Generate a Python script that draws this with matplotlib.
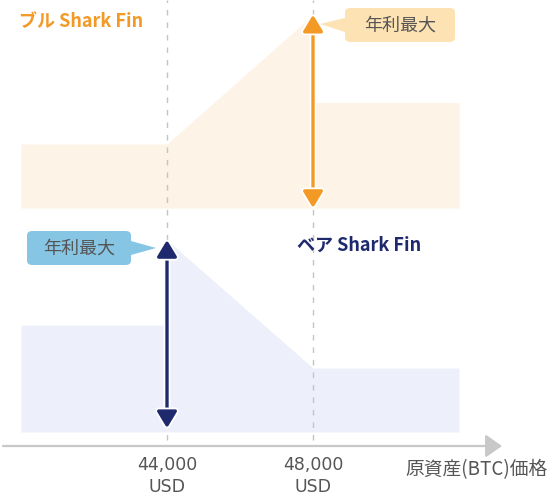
import numpy as np
import matplotlib.pyplot as plt
import matplotlib.patheffects as pe
from matplotlib.patches import FancyBboxPatch, Polygon

plt.rcParams['font.family'] = ['DejaVu Sans', 'Noto Sans CJK JP']

# prices (USD) and annual yield levels (relative units)
strikes = [44000, 48000]
tick_labels = ['44,000\nUSD', '48,000\nUSD']
bull_x = [40000, 44000, 48000, 48000, 52000]
bull_y = [1.0, 1.0, 3.02, 1.65, 1.65]
bear_x = [40000, 44000, 44000, 48000, 52000]
bear_y = [1.67, 1.67, 3.0, 1.0, 1.0]
bull_base = 3.5
bear_base = 0.0

ORANGE = '#f39a26'
NAVY = '#1f2a6e'
BULL_FILL = '#fdf3e7'
BEAR_FILL = '#edf0fb'
GRAY = '#555555'


# pixel helpers only for placing labels / callouts
def px_x(px):
    return 44000 + (px - 167) / 0.0365


def px_y(py):
    return (432 - py) / 64.0


fig = plt.figure(figsize=(5.5, 5.0), dpi=100)
ax = fig.add_axes([0, 0, 1, 1])
ax.set_xlim(px_x(0), px_x(550))
ax.set_ylim(px_y(500), px_y(0))
ax.axis('off')

# shaded payoff areas
ax.fill_between(bull_x, bull_base, np.array(bull_y) + bull_base,
                color=BULL_FILL, lw=0, zorder=1)
ax.fill_between(bear_x, bear_base, np.array(bear_y) + bear_base,
                color=BEAR_FILL, lw=0, zorder=1)

# dashed strike lines
for s in strikes:
    ax.plot([s, s], [px_y(440), px_y(0)], color='#c4c4c4', lw=1,
            dashes=(4, 5), zorder=2)

# price axis arrow
ax.annotate('', xy=(px_x(502), px_y(446)), xytext=(px_x(3), px_y(446)),
            arrowprops=dict(arrowstyle='-|>,head_length=0.5,head_width=0.35',
                            mutation_scale=20, color='#c8c8c8', lw=1.6,
                            shrinkA=0, shrinkB=0), zorder=2)

# max yield double arrows
outline = [pe.Stroke(linewidth=5, foreground='white'), pe.Normal()]
a1 = ax.annotate('', xy=(strikes[1], bull_base + max(bull_y)),
                 xytext=(strikes[1], bull_base),
                 arrowprops=dict(arrowstyle='<|-|>,head_length=0.5,head_width=0.3',
                                 mutation_scale=20, color=ORANGE, lw=2.4,
                                 shrinkA=0, shrinkB=0), zorder=4)
a1.arrow_patch.set_path_effects(outline)
a2 = ax.annotate('', xy=(strikes[0], bear_base + max(bear_y)),
                 xytext=(strikes[0], bear_base + 0.06),
                 arrowprops=dict(arrowstyle='<|-|>,head_length=0.5,head_width=0.3',
                                 mutation_scale=20, color=NAVY, lw=2.4,
                                 shrinkA=0, shrinkB=0), zorder=4)
a2.arrow_patch.set_path_effects(outline)


def callout(x0, x1, y0, y1, tip, color):
    box = FancyBboxPatch((px_x(x0), px_y(y1)), px_x(x1) - px_x(x0),
                         px_y(y0) - px_y(y1),
                         boxstyle='round,pad=0,rounding_size=150',
                         mutation_aspect=1 / 2200,
                         fc=color, ec='none', zorder=3)
    ax.add_patch(box)
    yc = (y0 + y1) / 2
    side = x0 if tip[0] < x0 else x1
    tri = Polygon([(px_x(side), px_y(yc - 7)), (px_x(side), px_y(yc + 7)),
                   (px_x(tip[0]), px_y(tip[1]))], closed=True,
                  fc=color, ec='none', zorder=3)
    ax.add_patch(tri)
    ax.text(px_x((x0 + x1) / 2), px_y(yc + 1), '年利最大', ha='center', va='center',
            fontsize=13, color=GRAY, family=['Noto Sans CJK JP'], zorder=5)


callout(345, 455, 8, 42, (320, 24), '#fde3b3')
callout(27, 131, 231, 265, (156, 248), '#86c5e4')

# series titles
ax.text(px_x(19), px_y(22), 'ブル Shark Fin', ha='left', va='center',
        fontsize=13, fontweight='bold', color=ORANGE,
        family=['Noto Sans CJK JP'])
ax.text(px_x(297), px_y(245), 'ベア Shark Fin', ha='left', va='center',
        fontsize=13, fontweight='bold', color=NAVY,
        family=['Noto Sans CJK JP'])

# tick labels
for s, lab in zip(strikes, tick_labels):
    ax.text(s, px_y(476), lab, ha='center', va='center', fontsize=12.5,
            color=GRAY, linespacing=1.3)

ax.text(px_x(548), px_y(470), '原資産(BTC)価格', ha='right', va='center',
        fontsize=13.5, color=GRAY, family=['Noto Sans CJK JP'])

fig.savefig('out.png', dpi=100)
